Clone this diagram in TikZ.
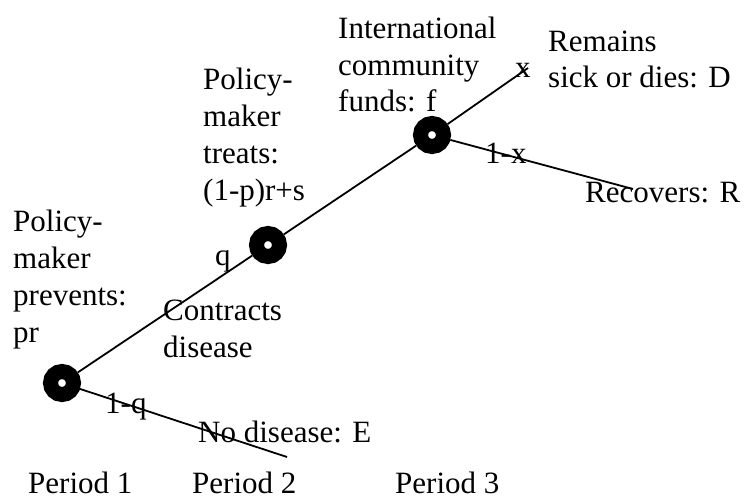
\documentclass[tikz,border=0pt]{standalone}
\usepackage{fontspec}
\setmainfont{Liberation Serif}
\begin{document}
\begin{tikzpicture}[x=1pt,y=-1pt,
  chance/.style={circle, draw=black, fill=white, line width=15pt, minimum size=23pt, inner sep=0pt},
  branch/.style={line width=1.8pt},
  lbl/.style={anchor=base west, align=left, inner sep=0pt, font=\fontsize{31}{36.7}\selectfont}]
\useasboundingbox (0,0) rectangle (746,500);
\node[chance] (n1) at (62,383) {};
\node[chance] (n2) at (268,245) {};
\node[chance] (n3) at (432,135) {};
\coordinate (eD) at (528,68);
\coordinate (eR) at (633,189);
\coordinate (eE) at (287,457);
\draw[branch] (n1) -- (n2);
\draw[branch] (n2) -- (n3);
\draw[branch] (n3) -- (eD);
\draw[branch] (n3) -- (eR);
\draw[branch] (n1) -- (eE);
\node[lbl] (t1) at (13,342) {Policy-\\maker\\prevents:\\pr};
\node[lbl] (t2) at (203,200) {Policy-\\maker\\treats:\\(1-p)r+s};
\node[lbl] (t3) at (338,112) {International\\community\\funds: f};
\node[lbl] (t4) at (548,88) {Remains\\sick or dies: D};
\node[lbl] (lx) at (515,78) {x};
\node[lbl] (l1x) at (485,163) {1-x};
\node[lbl] (t5) at (585,202) {Recovers: R};
\node[lbl] (lq) at (215,265) {q};
\node[lbl] (t6) at (163,357) {Contracts\\disease};
\node[lbl] (l1q) at (105,413) {1-q};
\node[lbl] (t7) at (198,442) {No disease: E};
\node[lbl] (p1) at (28,493) {Period 1};
\node[lbl] (p2) at (192,493) {Period 2};
\node[lbl] (p3) at (395,493) {Period 3};
\end{tikzpicture}
\end{document}
